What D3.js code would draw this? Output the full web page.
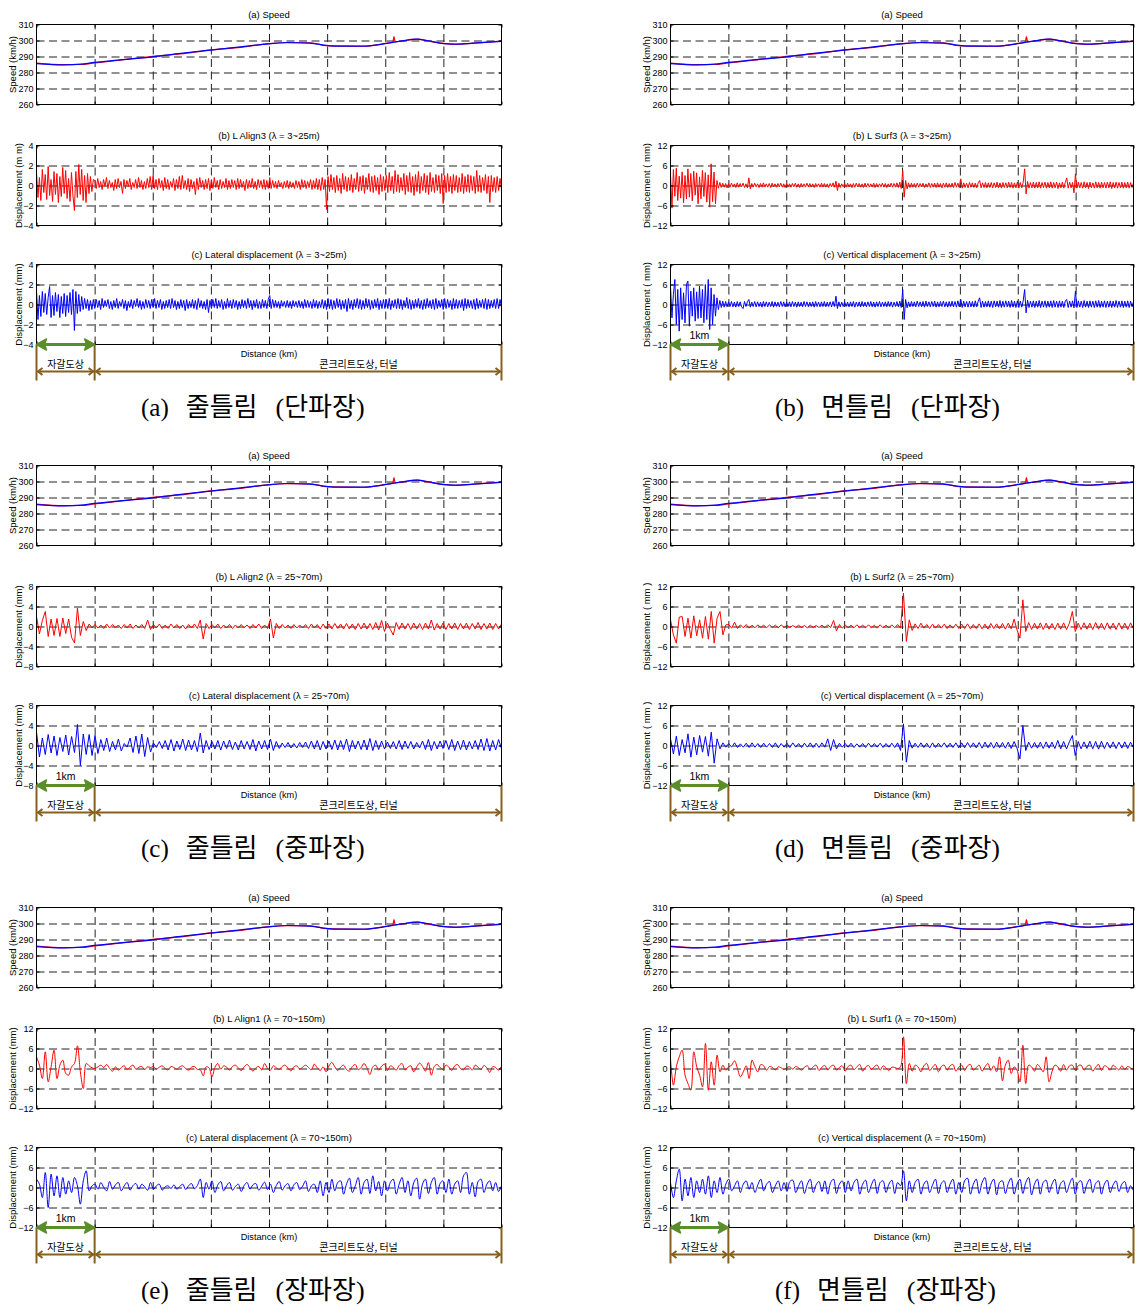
<!DOCTYPE html>
<html><head><meta charset="utf-8">
<script src="https://cdn.jsdelivr.net/npm/d3@7"></script>
<style>body{margin:0;background:#fff}svg{display:block}</style>
</head><body>
<script>
// ---------------- data ----------------
const distanceTicks = [0,1,2,3,4,5,6,7,8];
const speedTicks = [260,270,280,290,300,310];
const ticks4 = [-4,-2,0,2,4];
const ticks8 = [-8,-4,0,4,8];
const ticks12 = [-12,-6,0,6,12];

const speedKm   = [0,0.47,0.76,1.0,1.39,2.0,2.48,3.0,3.51,4.0,4.31,4.71,4.99,5.11,5.63,6.0,6.26,6.55,6.72,7.0,7.18,7.52,8.0];
const speedBlue = [285.6,284.8,285.2,286.3,287.7,289.8,291.9,294.0,296.0,297.9,298.75,298.3,296.9,296.5,296.5,298.0,299.6,300.8,300.0,298.0,297.7,298.3,299.4];
const speedRedKm = [0,0.47,0.76,1.0,1.39,2.0,2.48,3.0,3.51,4.0,4.31,4.71,4.99,5.11,5.63,6.0,6.13,6.15,6.17,6.26,6.55,6.72,7.0,7.18,7.52,8.0];
const speedRed   = [285.9,284.9,285.0,286.0,287.5,290.1,291.6,294.2,295.7,298.1,298.6,298.5,296.8,296.6,296.4,298.2,299.0,302.4,299.2,299.5,300.9,299.8,298.2,297.6,298.4,299.6];

// short-wavelength (3~25 m) records, 40 samples per km
const align3 = [
1.3,-1.2,0.8,-1.5,1.6,-0.7,1.1,-1.4,1.9,-1.0,0.6,-1.6,1.4,-0.9,1.2,-1.7,0.9,-1.1,1.8,-0.8,
1.5,-1.3,0.7,-1.6,1.3,-1.0,-2.5,1.4,-1.2,2.1,-0.9,1.6,-1.5,1.0,-1.7,1.2,-0.8,0.9,-0.6,0.6,
0.5,-0.3,0.7,-0.2,0.4,-0.4,0.6,-0.1,0.8,-0.3,0.5,-0.2,0.3,-0.5,0.6,-0.3,0.7,-0.2,0.4,-0.8,
0.6,-0.3,0.5,-0.1,0.7,-0.4,0.3,-0.2,0.6,-0.3,0.8,-0.2,0.5,-0.4,0.4,-0.3,0.7,-0.2,0.9,-0.4,
1.0,-0.3,0.6,-0.4,0.7,-0.2,0.5,-0.5,0.8,-0.3,0.6,-0.4,0.4,-0.2,0.7,-0.5,0.6,-0.3,0.9,-0.4,
1.0,-0.3,0.5,-0.4,0.7,-0.6,0.6,-0.3,0.4,-0.9,0.7,-0.4,0.8,-0.2,0.5,-0.4,0.6,-0.3,0.7,-0.5,
0.6,-0.3,0.8,-0.2,0.5,-0.4,0.6,-0.3,0.4,-0.2,0.7,-0.4,0.5,-0.3,0.6,-0.2,0.5,-0.4,0.7,-0.3,
0.6,-0.2,0.4,-0.5,0.6,-0.3,0.5,-0.2,0.7,-0.3,0.4,-0.4,0.6,-0.2,0.5,-0.3,0.6,-0.4,0.5,-0.3,
0.8,-0.3,0.5,-0.2,0.4,-0.3,0.5,-0.1,0.3,-0.3,0.4,-0.2,0.5,-0.3,0.4,-0.2,0.3,-0.3,0.5,-0.2,
0.4,-0.4,0.6,-0.2,0.5,-0.3,0.4,-0.2,0.6,-0.4,0.5,-0.3,0.7,-0.4,0.6,-0.5,0.8,-0.4,0.6,-2.4,
0.9,-0.6,1.1,-0.4,0.8,-0.7,1.0,-0.5,0.7,-0.8,1.2,-0.4,0.9,-0.6,0.8,-0.5,1.1,-0.7,0.7,-0.4,
1.3,-0.6,0.9,-0.5,1.0,-0.8,0.8,-0.4,1.2,-0.6,0.9,-0.7,1.0,-0.5,0.8,-0.9,1.1,-0.6,0.9,-0.5,
1.0,-0.7,1.3,-0.5,0.9,-0.8,1.5,-0.6,1.1,-0.7,0.8,-0.5,1.2,-0.9,1.0,-0.6,1.3,-0.7,0.9,-1.0,
1.1,-0.6,1.4,-0.8,0.9,-0.5,1.2,-0.7,1.0,-0.9,1.3,-0.6,0.8,-0.7,1.1,-0.5,1.0,-0.8,1.2,-1.8,
1.0,-0.7,1.2,-0.6,0.9,-0.8,1.1,-0.5,1.0,-0.7,0.8,-0.6,1.2,-0.8,0.9,-0.6,1.1,-0.7,1.0,-0.5,
0.9,-0.8,1.5,-0.6,1.0,-0.7,0.8,-0.5,1.1,-0.8,0.9,-1.7,1.0,-0.6,0.8,-0.7,0.9,-0.5,0.7,-0.4];

const lateral3 = [
1.4,-1.5,0.9,-1.2,1.3,-0.8,1.1,-1.0,0.7,1.8,-1.3,0.9,-1.1,1.2,-0.7,1.0,-1.3,0.8,-0.9,1.1,
-1.2,0.9,-0.8,1.2,-1.0,1.5,-2.6,1.3,-0.9,1.0,-0.7,0.8,-0.5,0.6,-0.4,0.5,-0.6,0.4,-0.5,0.5,
-0.4,0.5,-0.3,0.4,-0.5,0.6,-0.3,0.4,-0.2,0.5,-0.4,0.3,-0.5,0.4,-0.3,0.6,-0.4,0.3,-0.2,0.5,
-0.4,0.4,-0.6,0.3,-0.3,0.5,-0.4,0.4,-0.2,0.6,-0.3,0.4,-0.5,0.3,-0.4,0.5,-0.3,0.4,-0.4,0.5,
-0.3,0.6,-0.4,0.4,-0.3,0.5,-0.5,0.3,-0.4,0.4,-0.3,0.5,-0.4,0.6,-0.3,0.4,-0.5,0.3,-0.4,0.5,
-0.3,0.4,-0.6,0.5,-0.4,0.3,-0.3,0.5,-0.4,0.4,-0.5,0.6,-0.3,0.4,-0.4,0.3,-0.5,0.5,-0.8,0.4,
-0.4,0.5,-0.3,0.6,-0.4,0.4,-0.3,0.5,-0.5,0.3,-0.4,0.6,-0.3,0.4,-0.4,0.5,-0.3,0.4,-0.5,0.3,
-0.4,0.5,-0.3,0.4,-0.4,0.6,-0.3,0.4,-0.5,0.4,-0.3,0.5,-0.4,0.3,-0.4,0.5,-0.3,0.4,-0.4,0.5,
0.9,-0.4,0.5,-0.3,0.4,-0.3,0.3,-0.4,0.4,-0.2,0.3,-0.3,0.4,-0.3,0.3,-0.4,0.4,-0.2,0.3,-0.3,
0.4,-0.3,0.3,-0.4,0.5,-0.3,0.4,-0.3,0.3,-0.4,0.5,-0.3,0.4,-0.4,0.3,-0.3,0.5,-0.4,0.4,-0.5,
0.6,-0.4,0.5,-0.5,0.4,-0.4,0.6,-0.3,0.5,-0.5,0.4,-0.4,0.5,-0.7,0.6,-0.4,0.4,-0.5,0.5,-0.3,
0.6,-0.4,0.5,-0.5,0.4,-0.4,0.6,-0.3,0.5,-0.5,0.4,-0.4,0.5,-0.3,0.6,-0.5,0.4,-0.4,0.5,-0.4,
0.5,-0.4,0.6,-0.5,0.4,-0.3,0.5,-0.4,0.6,-0.4,0.5,-0.5,0.4,-0.3,0.7,-0.4,0.5,-0.5,0.4,-0.4,
0.5,-0.3,0.6,-0.4,0.4,-0.5,0.5,-0.4,0.6,-0.3,0.4,-0.4,0.5,-0.5,0.6,-0.4,0.4,-0.3,0.5,-0.5,
0.6,-0.4,0.5,-0.3,0.4,-0.5,0.6,-0.4,0.5,-0.4,0.4,-0.3,0.5,-0.6,0.6,-0.4,0.5,-0.3,0.4,-0.4,
0.5,-0.5,0.6,-0.4,0.4,-0.3,0.5,-0.4,0.6,-0.5,0.5,-0.4,0.4,-0.3,0.5,-0.4,0.6,-0.4,0.5,-0.3];

const surf3 = [
3.5,-6.8,4.8,-3.2,5.2,-4.5,2.8,-3.8,4.1,-5.2,3.0,-4.0,5.0,-3.5,3.6,-4.6,4.3,-2.9,3.8,-5.5,
2.6,-4.0,4.5,-3.3,3.9,-5.0,3.2,-6.5,6.5,-4.8,4.0,-5.5,1.5,-0.8,0.9,-0.6,0.7,-0.5,0.6,-0.7,
0.6,-0.5,0.7,-0.4,0.5,-0.6,0.8,-0.5,0.6,-0.4,0.7,-0.6,0.5,-0.7,2.3,-1.0,0.6,-0.5,0.7,-0.4,
0.5,-0.6,0.6,-0.5,0.8,-0.4,0.5,-0.5,0.6,-0.6,0.7,-0.4,0.5,-0.5,0.6,-0.4,0.7,-0.5,0.5,-0.6,
0.6,-0.4,0.5,-0.5,0.6,-0.4,0.7,-0.5,0.5,-0.6,0.6,-0.4,0.5,-0.5,0.7,-0.4,0.6,-0.5,0.5,-0.6,
0.6,-0.4,0.5,-0.5,0.7,-0.4,0.6,-0.5,0.5,-0.6,0.6,-0.4,0.8,-0.5,1.3,-1.5,0.7,-0.6,0.5,-0.4,
0.6,-0.5,0.7,-0.4,0.5,-0.6,0.6,-0.5,0.7,-0.4,0.6,-0.5,0.5,-0.6,0.7,-0.4,0.6,-0.5,0.5,-0.4,
0.7,-0.6,0.6,-0.5,0.5,-0.4,0.7,-0.5,0.6,-0.6,0.5,-0.4,0.7,-0.5,0.6,-0.5,0.8,-0.6,1.0,-0.9,
4.5,-3.5,1.5,-1.0,0.8,-0.6,0.7,-0.5,0.6,-0.6,0.7,-0.5,0.6,-0.4,0.7,-0.6,0.5,-0.5,0.8,-0.6,
0.6,-0.5,0.7,-0.6,0.8,-0.5,0.6,-0.7,0.7,-0.5,0.8,-0.6,0.6,-0.5,0.7,-0.6,0.9,-0.5,0.7,-0.6,
2.0,-0.8,0.8,-0.6,0.7,-0.7,0.9,-0.5,0.8,-0.6,0.7,-0.7,0.8,1.5,-0.7,0.8,-0.6,0.9,-0.7,0.8,
-0.6,0.9,-0.7,0.8,-0.6,1.0,-0.7,0.8,-0.8,0.9,-0.6,0.8,-0.7,1.0,-0.6,0.9,-0.8,0.8,-0.7,1.0,
-0.8,0.9,-0.7,1.0,5.0,-2.5,1.2,-0.8,0.9,-0.7,1.0,-0.8,0.9,-0.7,1.1,-0.8,0.9,-0.6,1.0,-0.8,
0.9,-0.7,1.1,-0.8,0.9,-0.7,1.0,-0.9,0.8,-0.7,1.0,-0.8,0.9,2.3,-0.8,1.0,-0.7,0.9,-2.2,3.5,
-0.8,1.0,-0.7,0.9,-0.8,1.1,-0.7,0.9,-0.9,1.0,-0.7,0.8,-0.8,1.1,-0.7,0.9,-0.8,1.0,-0.7,0.9,
-0.8,1.0,-0.7,1.1,-0.9,0.9,-0.7,1.0,-0.8,0.9,-0.7,1.0,-0.8,0.9,-0.7,1.0,-0.8,0.9,-0.6,0.8];

const vertical3 = [
5.5,-4.0,3.0,7.5,-6.0,4.5,-8.0,5.0,-4.5,3.5,-5.5,6.0,7.0,-6.5,4.0,-3.5,5.0,-5.0,3.8,-4.2,
5.5,-4.0,4.5,-5.5,6.0,-4.5,7.5,-7.5,5.0,-6.0,3.0,-3.5,2.0,-1.5,1.2,-0.9,1.0,-0.8,0.9,-0.7,
0.8,-0.6,0.9,-0.7,0.7,-0.8,0.9,-0.6,0.8,-0.7,-1.2,0.9,-0.6,0.8,1.5,-0.8,0.7,-0.6,0.9,-0.7,
0.8,-0.6,0.7,-0.8,0.9,-0.6,0.8,-0.7,0.7,-0.6,0.9,-0.8,0.8,-0.6,0.7,-0.7,0.9,-0.6,0.8,-0.7,
0.7,-0.6,0.8,-0.7,0.9,-0.6,0.7,-0.8,0.8,-0.6,0.7,-0.7,0.9,-0.6,0.8,-0.7,0.7,-0.6,0.8,-0.8,
0.9,-0.6,0.7,-0.7,0.8,-0.6,0.9,-0.7,0.7,-0.6,0.8,-0.7,0.9,-0.6,2.5,-1.2,0.8,-0.7,0.7,-0.6,
0.8,-0.6,0.7,-0.7,0.8,-0.6,0.9,-0.8,0.7,-0.6,0.8,-0.7,0.9,-0.6,0.7,-0.7,0.8,-0.6,0.9,-0.7,
0.7,-0.8,0.8,-0.6,0.9,-0.7,0.7,-0.6,0.8,-0.7,0.9,-0.6,0.8,-0.8,0.7,-0.6,0.9,-0.7,1.0,-0.9,
4.5,-4.5,1.5,-1.0,0.8,-0.7,0.9,-0.6,0.8,-0.7,1.0,-0.6,0.8,-0.7,0.9,-0.8,1.0,-0.6,0.8,-0.7,
0.9,-0.6,1.0,-0.8,0.8,-0.7,0.9,-0.6,1.0,-0.7,0.8,-0.8,0.9,-0.6,1.0,-0.7,0.9,-0.8,1.1,-0.7,
1.5,-0.9,1.0,-0.7,0.9,-0.8,1.0,-0.7,0.9,-0.8,1.1,-0.7,1.0,2.0,-0.9,1.0,-0.8,0.9,-0.7,1.1,
-0.8,1.0,-0.9,1.1,-0.7,1.0,-0.8,1.2,-0.9,1.0,-0.8,1.1,-0.7,1.0,-0.9,1.2,-0.8,1.0,-0.9,1.1,
-0.9,1.0,-0.8,1.1,4.5,-2.5,1.3,-0.9,1.0,-0.8,1.1,-0.9,1.0,-0.8,1.2,-0.9,1.0,-0.8,1.1,-0.9,
1.0,-0.8,1.1,-0.9,1.2,-0.8,1.0,-0.9,1.1,-0.8,1.0,-0.9,1.1,1.5,-0.9,1.0,-0.8,1.1,-1.0,4.0,
-0.9,1.1,-0.8,1.0,-0.9,1.2,-0.8,1.0,-0.9,1.1,-0.8,1.0,-0.9,1.1,-0.8,1.2,-0.9,1.0,-0.8,1.1,
-0.9,1.0,-0.8,1.1,-0.9,1.0,-0.8,1.2,-0.9,1.0,-0.8,1.1,-0.9,1.0,-0.8,1.1,-0.9,1.0,-0.7,0.9];

// mid-wavelength (25~70 m) records, 20 samples per km
const align2 = [
2.0,-1.5,1.2,3.0,-2.0,1.5,-1.8,1.6,-2.0,1.7,-1.4,1.5,-2.2,-3.3,3.7,-1.8,1.0,-0.8,0.5,-0.3,
0.4,-0.3,0.3,-0.4,0.5,-0.3,0.4,-0.3,0.3,-0.4,0.4,-0.3,0.5,-0.4,0.3,-0.3,0.4,-0.4,1.3,-0.6,
0.4,-0.3,0.5,-0.4,0.3,-0.4,0.5,-0.3,0.4,-0.4,0.3,-0.5,0.4,-0.3,0.5,-0.4,1.3,-2.5,0.6,-0.4,
0.4,-0.3,0.5,-0.4,0.3,-0.3,0.4,-0.4,0.3,-0.3,0.4,-0.3,0.3,-0.4,0.4,-0.3,0.5,-0.4,0.3,-0.4,
1.5,-2.3,0.6,-0.4,0.4,-0.3,0.3,-0.4,0.4,-0.3,0.3,-0.3,0.4,-0.4,0.5,-0.3,0.4,-0.5,0.5,-0.4,
0.5,-0.5,0.6,-0.4,0.5,-0.5,0.6,-0.5,0.5,-0.6,0.6,-0.5,0.7,-0.5,0.6,-0.6,0.8,-0.7,1.2,-1.0,
0.7,-0.6,-1.7,0.8,-0.6,0.7,-0.5,0.6,-0.6,0.7,-0.5,0.6,-0.6,0.7,-0.5,1.3,-0.7,0.6,-0.5,0.7,
-0.6,0.6,-0.5,0.7,-0.6,0.6,-0.5,0.7,-0.6,0.6,-0.5,0.8,-0.6,0.6,-0.5,0.7,-0.6,0.6,-0.5,0.5];

const lateral2 = [
2.7,-2.3,1.5,-1.8,2.2,-1.5,1.9,-2.0,1.6,-1.2,2.1,-1.9,1.8,-1.4,4.2,-4.0,2.3,-1.8,2.2,-2.0,
2.0,-1.6,1.2,-1.0,1.5,-1.2,0.8,-0.9,1.3,-1.1,0.4,-0.3,1.5,-1.4,1.9,-1.6,2.3,-2.2,1.6,-1.3,
0.5,-0.4,0.8,-0.6,1.0,-0.9,1.2,-1.1,0.9,-0.8,1.3,-1.0,1.1,-0.9,1.0,-1.2,2.5,-1.5,1.0,-0.8,
0.8,-0.7,1.0,-0.9,0.9,-0.6,1.1,-0.8,0.7,-0.9,1.0,-0.7,0.8,-0.8,1.2,-1.1,0.9,-0.7,1.0,-0.8,
1.3,-1.0,0.8,-0.6,0.5,-0.4,0.6,-0.5,0.4,-0.5,0.6,-0.4,0.7,-0.6,0.9,-0.7,1.0,-0.9,0.8,-0.7,
0.9,-0.8,1.1,-0.9,1.0,-0.8,1.3,-1.2,1.0,-0.7,0.9,-0.8,1.1,-0.9,1.4,-1.0,1.0,-0.8,0.9,-0.7,
0.7,-0.6,0.8,-0.7,1.0,-0.8,0.9,-0.6,0.8,-0.7,0.6,-0.5,0.9,-0.8,1.2,-1.0,0.8,-0.7,0.9,-0.6,
1.0,-0.8,1.2,-1.0,0.9,-0.8,1.1,-0.9,0.8,-0.7,1.0,-0.8,1.3,-1.0,1.4,-1.1,1.0,-0.9,1.2,-0.6];

const surf2 = [
2.0,-2.5,-5.0,2.8,3.0,-3.0,2.5,-3.5,3.2,-2.8,2.0,-3.5,3.0,-3.8,4.5,-5.0,2.5,4.5,-2.5,0.5,
0.6,-0.5,1.3,-0.6,0.5,-0.4,0.6,-0.5,0.4,-0.4,0.5,-0.3,0.4,-0.4,0.5,-0.3,0.4,-0.4,0.5,-0.3,
0.4,-0.3,0.3,-0.3,0.4,-0.3,0.3,-0.4,0.4,-0.3,0.3,-0.3,0.4,-0.4,0.5,-0.3,1.8,-1.3,0.6,-0.5,
0.5,-0.4,0.4,-0.4,0.5,-0.3,0.4,-0.4,0.5,-0.4,0.4,-0.5,0.5,-0.4,0.4,-0.4,0.5,-0.4,0.6,-0.5,
10.0,-4.5,2.0,-1.2,0.8,-0.6,1.0,-0.5,0.6,-0.6,0.7,-0.5,0.6,-0.5,0.7,-0.6,0.5,-0.5,0.7,-0.6,
0.7,-0.6,0.8,-0.7,0.6,-0.6,0.8,-0.7,0.7,-0.8,0.9,-0.6,0.8,-0.7,0.9,-0.8,1.0,-0.7,2.2,-1.0,
-3.5,8.0,-1.5,1.2,-0.9,1.0,-0.8,1.1,-0.9,1.0,-0.8,0.9,-0.9,1.0,-0.8,1.1,-0.9,1.0,4.5,-1.5,
1.0,-0.9,1.1,-0.8,1.0,-0.9,1.2,-0.8,1.0,-0.9,1.1,-0.8,1.0,-0.9,1.1,-0.8,1.0,-0.9,1.1,-0.7];

const vertical2 = [
2.0,-2.5,2.8,-3.0,1.8,-2.2,3.5,-3.5,2.5,-2.8,3.0,-2.0,2.7,-3.2,4.0,-5.3,2.0,-1.0,0.8,-0.5,
0.6,-0.5,0.8,-0.6,0.5,-0.5,0.7,-0.6,0.8,-0.5,0.6,-0.6,0.7,-0.5,0.6,-0.6,0.8,-0.7,0.6,-0.5,
0.7,-0.6,0.8,-0.5,0.6,-0.6,0.7,-0.5,0.8,-0.6,0.7,-0.6,0.8,-0.5,2.0,-1.5,1.8,-1.0,0.7,-0.5,
0.6,-0.5,0.7,-0.6,0.5,-0.5,0.6,-0.6,0.7,-0.5,0.6,-0.5,0.7,-0.6,0.6,-0.5,0.7,-0.6,0.8,-1.5,
6.5,-5.0,1.5,-0.8,0.7,-0.6,0.8,-0.6,0.7,-0.7,0.8,-0.6,0.7,-0.5,0.8,-0.6,0.7,-0.6,0.8,-0.7,
0.8,-0.7,0.9,-0.6,0.8,-0.7,0.9,-0.8,1.0,-0.7,0.9,-0.8,1.0,-0.7,0.9,-0.8,1.0,-0.9,1.2,-0.8,
-4.0,6.0,-1.5,1.0,-0.8,0.9,-0.8,1.0,-0.9,1.1,-0.8,1.0,-0.9,1.5,-1.0,1.2,-1.0,1.1,3.0,-3.0,
1.2,-1.0,1.1,-0.9,1.3,-1.0,1.2,-1.1,1.3,-0.9,1.0,-0.8,1.1,-0.9,1.0,-0.8,1.1,-0.9,1.0,-0.7];

// long-wavelength (70~150 m) records, 20 samples per km
const align1 = [
3.5,1.0,-3.0,5.0,-4.0,0.5,5.5,-3.0,1.0,2.5,-1.5,-2.0,0.5,1.5,6.8,-1.0,-6.0,1.5,0.8,0.2,
0.0,0.5,1.0,0.3,1.2,0.0,-0.8,0.5,-0.5,0.3,0.8,-0.3,0.5,1.0,-0.2,0.4,0.6,-0.3,0.5,0.3,
0.6,-0.2,0.4,0.8,0.0,-0.4,0.6,0.3,-0.2,0.5,0.8,0.0,-0.5,0.4,0.6,-0.3,-0.4,-2.2,0.5,0.2,
-2.5,0.3,1.5,-0.2,0.8,0.4,-0.5,0.6,1.0,0.2,-0.6,0.5,1.2,0.3,-0.8,0.2,0.6,-0.4,1.5,0.0,
-0.5,0.8,0.2,-0.3,0.6,1.0,0.1,-0.7,0.5,0.8,-0.2,0.4,1.0,0.3,-0.4,1.3,0.2,-0.6,0.5,-1.0,
0.8,1.8,0.5,-0.6,0.4,1.0,-0.3,-0.8,0.6,1.2,-0.4,0.3,1.5,0.2,-1.8,0.5,1.0,-0.5,0.7,1.3,
-0.6,0.8,0.3,-0.5,0.9,1.5,-0.5,0.4,0.8,-1.0,0.5,1.6,0.6,-0.8,1.8,-2.0,0.6,1.2,0.3,-0.3,
1.0,0.4,-0.6,0.8,1.2,0.0,-0.4,0.7,0.5,-0.5,1.0,0.4,-0.3,0.9,0.2,-1.2,0.6,0.3,-0.5,0.7];

const lateral1 = [
2.5,1.0,-3.0,4.5,-6.0,4.0,-2.5,3.5,-3.0,3.0,-2.0,2.0,-1.5,3.0,0.5,-5.0,2.0,5.0,-1.0,0.5,
1.0,-0.5,1.5,0.0,-1.0,1.8,-0.5,0.8,1.5,-1.0,0.5,1.5,-0.8,0.6,1.2,-0.5,1.0,0.2,-0.8,1.5,
-0.5,0.5,1.0,-0.8,0.2,0.5,-0.3,0.8,-0.5,0.3,1.0,-0.6,0.5,1.2,-0.4,0.6,2.5,-3.0,1.5,-0.5,
2.0,-1.5,0.8,1.8,-1.0,0.5,1.5,-0.8,0.3,1.0,-1.2,0.6,1.5,-0.5,0.8,1.2,-0.8,0.4,1.6,-0.6,
1.0,-1.5,0.6,1.8,-0.8,0.5,1.2,-1.0,0.8,1.5,-0.6,0.4,2.0,-1.2,0.5,1.0,-1.5,2.0,-2.5,1.5,
-1.5,2.5,-1.0,1.5,2.0,-2.0,1.0,2.8,-1.5,0.5,3.0,-2.0,1.5,2.5,-1.8,3.5,-1.0,1.8,-2.5,2.0,
-1.0,1.5,2.5,-2.0,1.0,3.0,-1.5,2.0,-2.5,1.5,2.8,-3.5,1.0,2.5,-1.8,1.5,3.0,-2.0,1.2,2.0,
-1.5,2.5,-2.0,1.0,2.0,-1.5,3.5,4.5,-2.0,1.5,-2.8,1.8,2.5,-1.5,1.0,2.0,-1.0,1.5,-1.2,0.5];

const surf1 = [
3.0,-5.0,0.5,3.5,5.5,-2.0,-4.5,-6.5,5.0,0.5,-2.0,-5.5,7.5,-6.5,2.0,-5.0,4.0,-1.0,1.0,-0.5,
0.5,1.0,2.3,0.0,-2.5,-1.0,0.8,-3.0,2.5,0.5,-1.0,1.2,0.8,-0.5,0.6,0.3,-0.4,0.5,0.2,-0.3,
0.3,0.5,-0.2,0.6,0.2,-0.5,0.4,0.8,-0.3,0.5,1.0,-0.6,0.4,0.9,-0.4,0.6,1.0,-0.5,0.3,0.8,
-0.8,0.6,1.0,-0.4,0.5,1.2,-0.8,0.4,0.9,-0.3,0.6,1.0,-0.5,0.8,0.2,-0.6,0.4,0.3,0.0,0.5,
9.5,-4.5,1.5,-0.8,1.0,0.5,-1.0,0.8,1.5,-0.6,0.4,1.2,-1.0,0.6,1.0,-0.5,0.8,1.2,-0.8,0.4,
1.0,-0.6,0.8,1.2,-0.5,0.3,1.0,-0.8,0.5,1.5,-0.6,0.8,-1.0,3.5,-3.7,1.0,2.5,-1.5,0.5,-0.5,
-4.0,7.0,-4.5,1.0,0.5,-0.8,1.2,0.3,-1.0,3.5,-4.0,-1.0,1.0,0.5,-0.8,1.2,-0.5,0.8,1.0,-0.6,
0.8,1.0,-0.5,0.6,1.0,-0.8,0.4,1.2,-0.6,0.8,0.5,-0.5,1.0,0.3,-0.4,0.8,-0.3,0.6,0.2,-0.4];

const vertical1 = [
1.5,-3.0,2.0,5.5,-4.0,2.5,-2.5,3.0,-3.0,2.0,-1.5,2.5,-2.0,3.5,-3.0,2.0,-1.5,3.0,-2.0,1.0,
2.5,-1.0,0.5,2.0,-1.5,1.0,2.0,-0.5,1.5,-1.5,0.8,2.5,-1.0,1.0,1.8,-1.5,0.5,2.0,-1.0,1.5,
-1.2,1.8,2.2,-1.5,0.5,2.0,-1.8,1.0,2.5,-1.5,0.8,1.8,-1.2,2.0,-2.0,1.5,2.5,-1.8,1.0,2.0,
-1.5,2.0,-1.0,1.5,2.5,-2.0,1.0,2.2,-1.5,0.8,2.5,-1.8,1.5,2.0,-1.5,1.0,2.2,-1.8,1.5,0.5,
5.0,-4.0,2.0,-1.5,1.5,2.5,-2.0,1.0,2.0,-1.5,0.8,2.5,-1.8,1.2,2.0,-1.5,1.0,2.5,-2.0,1.5,
-1.5,2.0,2.8,-2.0,1.0,2.5,-1.8,1.5,3.0,-2.0,1.0,2.5,-2.2,1.5,2.0,-1.8,1.2,2.8,-2.0,1.0,
2.5,-1.8,1.5,3.0,-2.2,1.0,2.5,-2.0,1.5,2.2,-1.5,1.0,2.5,-2.0,1.2,2.0,-1.5,1.0,2.8,-2.0,
1.5,2.0,-1.8,1.0,2.5,-1.5,1.2,2.0,-2.0,1.0,2.2,-1.5,0.8,2.0,-1.2,1.0,1.8,-1.5,0.5,-1.0];

// ---------------- layout ----------------
const FONT = "'Liberation Sans', Arial, sans-serif";
const KFONT = "'Noto Sans CJK KR', sans-serif";
const SERIF = "'Liberation Serif','DejaVu Serif','Noto Sans CJK KR',serif";
const RED = "#ff0000", BLUE = "#0000ff", GREEN = "#5b8e2a", BROWN = "#86601e";
const columns = [{L:36.5, R:501.5}, {L:670.5, R:1133.5}];
const rowTops = [24.5, 465.5, 907.5];
const panelOffsets = [0, 121, 240];
const PH = 80;

const groups = [
 {col:0,row:0,cap:["(a)","줄틀림","(단파장)"], km:false,
  b:{t:"(b) L Align3 (λ = 3~25m)", d:align3, ticks:ticks4, yl:"Displacement (m m)", c:RED, smooth:false},
  c:{t:"(c) Lateral displacement (λ = 3~25m)", d:lateral3, ticks:ticks4, yl:"Displacement (mm)", c:BLUE, smooth:false}},
 {col:1,row:0,cap:["(b)","면틀림","(단파장)"], km:true,
  b:{t:"(b) L Surf3 (λ = 3~25m)", d:surf3, ticks:ticks12, yl:"Displacement ( mm)", c:RED, smooth:false},
  c:{t:"(c) Vertical displacement (λ = 3~25m)", d:vertical3, ticks:ticks12, yl:"Displacement ( mm)", c:BLUE, smooth:false}},
 {col:0,row:1,cap:["(c)","줄틀림","(중파장)"], km:true,
  b:{t:"(b) L Align2 (λ = 25~70m)", d:align2, ticks:ticks8, yl:"Displacement (mm)", c:RED, smooth:false},
  c:{t:"(c) Lateral displacement (λ = 25~70m)", d:lateral2, ticks:ticks8, yl:"Displacement (mm)", c:BLUE, smooth:false}},
 {col:1,row:1,cap:["(d)","면틀림","(중파장)"], km:true,
  b:{t:"(b) L Surf2 (λ = 25~70m)", d:surf2, ticks:ticks12, yl:"Displacement ( mm )", c:RED, smooth:false},
  c:{t:"(c) Vertical displacement (λ = 25~70m)", d:vertical2, ticks:ticks12, yl:"Displacement ( mm )", c:BLUE, smooth:false}},
 {col:0,row:2,cap:["(e)","줄틀림","(장파장)"], km:true,
  b:{t:"(b) L Align1 (λ = 70~150m)", d:align1, ticks:ticks12, yl:"Displacement (mm)", c:RED, smooth:true},
  c:{t:"(c) Lateral displacement (λ = 70~150m)", d:lateral1, ticks:ticks12, yl:"Displacement (mm)", c:BLUE, smooth:true}},
 {col:1,row:2,cap:["(f)","면틀림","(장파장)"], km:true,
  b:{t:"(b) L Surf1 (λ = 70~150m)", d:surf1, ticks:ticks12, yl:"Displacement (mm)", c:RED, smooth:true},
  c:{t:"(c) Vertical displacement (λ = 70~150m)", d:vertical1, ticks:ticks12, yl:"Displacement (mm)", c:BLUE, smooth:true}}
];

const svg = d3.select("body").append("svg").attr("width",1136).attr("height",1307);
svg.append("rect").attr("width",1136).attr("height",1307).attr("fill","#fff");
const defs = svg.append("defs");
let clipN = 0;

function panel(L, R, T, ticks, title, ylab, lines){
  const B = T + PH;
  const x = d3.scaleLinear().domain([0,8]).range([L,R]);
  const y = d3.scaleLinear().domain([ticks[0], ticks[ticks.length-1]]).range([B,T]);
  const g = svg.append("g");
  g.append("g").attr("transform",`translate(0,${B})`)
    .call(d3.axisBottom(x).tickValues(distanceTicks.slice(1,-1)).tickSize(-(B-T)).tickFormat(""))
    .call(a=>{a.select(".domain").remove(); a.selectAll("line").attr("stroke","#222").attr("stroke-dasharray","8,4.5");});
  g.append("g").attr("transform",`translate(${L},0)`)
    .call(d3.axisLeft(y).tickValues(ticks.slice(1,-1)).tickSize(-(R-L)).tickFormat(""))
    .call(a=>{a.select(".domain").remove(); a.selectAll("line").attr("stroke","#222").attr("stroke-dasharray","8,4.5");});
  const id = "clp" + (clipN++);
  defs.append("clipPath").attr("id",id).append("rect").attr("x",L).attr("y",T).attr("width",R-L).attr("height",B-T);
  lines.forEach(s=>{
    const n = s.ys.length;
    const line = d3.line()
      .x((d,i)=> x(s.xs ? s.xs[i] : i*8/(n-1)))
      .y(d=> y(d))
      .curve(s.curve || d3.curveLinear);
    g.append("path").datum(s.ys).attr("clip-path",`url(#${id})`)
      .attr("fill","none").attr("stroke",s.color).attr("stroke-width",s.w||1)
      .attr("stroke-linejoin","round").attr("d",line);
  });
  g.append("g").attr("transform",`translate(${L},0)`)
    .call(d3.axisLeft(y).tickValues(ticks).tickSizeInner(-3).tickSizeOuter(0).tickPadding(3))
    .call(a=>{a.select(".domain").remove();
      a.attr("font-size",9).attr("font-family",FONT);
      a.selectAll("text").attr("fill","#000");
      a.selectAll("line").attr("stroke","#000");});
  g.append("g").attr("transform",`translate(${R},0)`)
    .call(d3.axisRight(y).tickValues(ticks).tickSizeInner(-3).tickSizeOuter(0).tickFormat(""))
    .call(a=>{a.select(".domain").remove(); a.selectAll("line").attr("stroke","#000");});
  g.append("g").attr("transform",`translate(0,${B})`)
    .call(d3.axisBottom(x).tickValues(distanceTicks).tickSizeInner(-3).tickSizeOuter(0).tickFormat(""))
    .call(a=>{a.select(".domain").remove(); a.selectAll("line").attr("stroke","#000");});
  g.append("g").attr("transform",`translate(0,${T})`)
    .call(d3.axisTop(x).tickValues(distanceTicks).tickSizeInner(-3).tickSizeOuter(0).tickFormat(""))
    .call(a=>{a.select(".domain").remove(); a.selectAll("line").attr("stroke","#000");});
  g.append("rect").attr("x",L).attr("y",T).attr("width",R-L).attr("height",B-T)
    .attr("fill","none").attr("stroke","#000").attr("stroke-width",1);
  g.append("text").attr("x",(L+R)/2).attr("y",T-7).attr("text-anchor","middle")
    .attr("font-family",FONT).attr("font-size",9.5).text(title);
  const maxChars = d3.max(ticks, t=>String(t).length);
  const lx = L - (maxChars >= 3 ? 24 : 18);
  g.append("text").attr("transform",`translate(${lx},${(T+B)/2}) rotate(-90)`)
    .attr("text-anchor","middle").attr("dy","0.35em")
    .attr("font-family",FONT).attr("font-size",9.5).text(ylab);
  return {x, B};
}

function annotate(L, R, B, showKm, cap){
  const x = d3.scaleLinear().domain([0,8]).range([L,R]);
  const x0 = x(0), x1 = x(1), x8 = x(8);
  const g = svg.append("g");
  [x0, x1, x8].forEach(v=>{
    g.append("line").attr("x1",v).attr("x2",v).attr("y1",B).attr("y2",B+36)
      .attr("stroke",BROWN).attr("stroke-width",2);
  });
  const ay = B + 27;
  [[x0,x1],[x1,x8]].forEach(([a,b])=>{
    g.append("line").attr("x1",a+1).attr("x2",b-1).attr("y1",ay).attr("y2",ay)
      .attr("stroke",BROWN).attr("stroke-width",2);
    g.append("path").attr("d",`M${a+6},${ay-3.5}L${a+1.5},${ay}L${a+6},${ay+3.5}`)
      .attr("fill","none").attr("stroke",BROWN).attr("stroke-width",2);
    g.append("path").attr("d",`M${b-6},${ay-3.5}L${b-1.5},${ay}L${b-6},${ay+3.5}`)
      .attr("fill","none").attr("stroke",BROWN).attr("stroke-width",2);
  });
  g.append("line").attr("x1",x0+6).attr("x2",x1-6).attr("y1",B).attr("y2",B)
    .attr("stroke",GREEN).attr("stroke-width",3.2);
  g.append("path").attr("d",`M${x0},${B}L${x0+10},${B-5.5}L${x0+8},${B}L${x0+10},${B+5.5}Z`)
    .attr("fill",GREEN).attr("stroke",GREEN).attr("stroke-width",1.5).attr("stroke-linejoin","round");
  g.append("path").attr("d",`M${x1},${B}L${x1-10},${B-5.5}L${x1-8},${B}L${x1-10},${B+5.5}Z`)
    .attr("fill",GREEN).attr("stroke",GREEN).attr("stroke-width",1.5).attr("stroke-linejoin","round");
  if (showKm){
    g.append("text").attr("x",(x0+x1)/2).attr("y",B-6).attr("text-anchor","middle")
      .attr("font-family",FONT).attr("font-size",10.5).text("1km");
  }
  g.append("text").attr("x",(L+R)/2).attr("y",B+12).attr("text-anchor","middle")
    .attr("font-family",FONT).attr("font-size",9.2).text("Distance (km)");
  g.append("text").attr("x",(x0+x1)/2).attr("y",B+23.5).attr("text-anchor","middle")
    .attr("font-family",KFONT).attr("font-size",10).text("자갈도상");
  g.append("text").attr("x",L+322).attr("y",B+23.5).attr("text-anchor","middle")
    .attr("font-family",KFONT).attr("font-size",10).text("콘크리트도상, 터널");
  // caption
  const t = g.append("text").attr("x",L+104.5).attr("y",B+71).attr("fill","#000");
  t.append("tspan").attr("font-family",SERIF).attr("font-size",25).text(cap[0]);
  t.append("tspan").attr("dx",17).attr("font-family",KFONT).attr("font-size",26).text(cap[1]);
  t.append("tspan").attr("dx",18).attr("font-family",SERIF).attr("font-size",26).text(cap[2]);
}

groups.forEach(gr=>{
  const {L,R} = columns[gr.col];
  const top = rowTops[gr.row];
  panel(L,R,top+panelOffsets[0],speedTicks,"(a) Speed","Speed (km/h)",[
    {xs:speedRedKm, ys:speedRed, color:RED, w:1.2, curve:d3.curveMonotoneX},
    {xs:speedKm, ys:speedBlue, color:BLUE, w:1.2, curve:d3.curveMonotoneX}
  ]);
  panel(L,R,top+panelOffsets[1],gr.b.ticks,gr.b.t,gr.b.yl,[
    {ys:gr.b.d, color:gr.b.c, w:1, curve: gr.b.smooth ? d3.curveCatmullRom : d3.curveLinear}
  ]);
  const p = panel(L,R,top+panelOffsets[2],gr.c.ticks,gr.c.t,gr.c.yl,[
    {ys:gr.c.d, color:gr.c.c, w:1, curve: gr.c.smooth ? d3.curveCatmullRom : d3.curveLinear}
  ]);
  annotate(L,R,p.B,gr.km,gr.cap);
});
</script>
</body></html>
